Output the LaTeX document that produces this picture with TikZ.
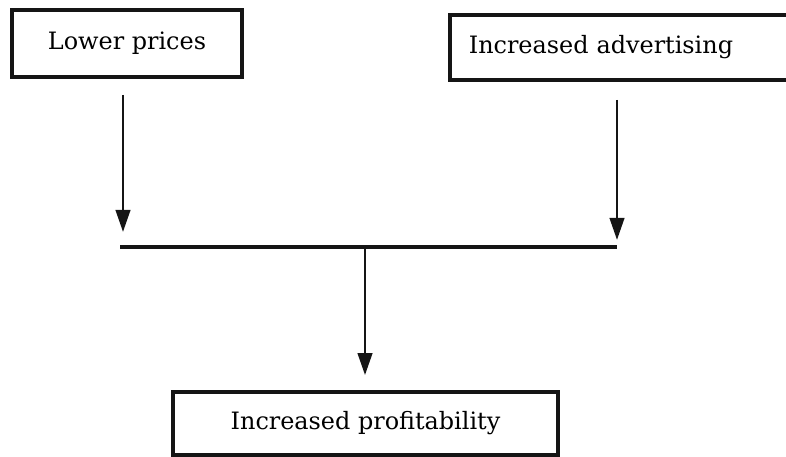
\documentclass[tikz,border=0pt]{standalone}
\usepackage{fontspec}
\setmainfont{DejaVu Serif}
\usetikzlibrary{arrows.meta,calc}
\definecolor{Ink}{HTML}{151515}

\begin{document}
\begin{tikzpicture}[x=0.025cm,y=-0.025cm,
    box/.style={draw=Ink,line width=2.6pt,inner sep=0pt,font=\fontsize{17}{20}\selectfont},
    flow/.style={-{Triangle[length=0.55cm,width=0.36cm]},line width=2pt,Ink}]
  \useasboundingbox (0,0) rectangle (786,457);
  \node[box,minimum width=5.75cm,minimum height=1.675cm] (lower) at (127,43.5)
    {Lower prices};
  \node[box,anchor=west,align=left,text width=7.8cm,inner xsep=0.475cm,minimum height=1.625cm] (advert) at (448,47.5)
    {Increased advertising};
  \node[box,minimum width=9.625cm,minimum height=1.575cm] (profit) at (365.5,423.5)
    {Increased profitability};
  % joining bar
  \coordinate (barL) at (120,247);
  \coordinate (barR) at (617,247);
  \coordinate (join) at (365,247);
  \draw[line width=2.4pt,Ink] (barL) -- (barR);
  \draw[flow] ($(lower.south)+(-4,16)$) -- ($(barL)+(3,-15)$);
  \draw[flow] ($(advert.south -| barR)+(0,18)$) -- ($(barR)+(0,-7)$);
  \draw[flow] (join) -- ($(profit.north)+(-0.5,-15)$);
\end{tikzpicture}
\end{document}
